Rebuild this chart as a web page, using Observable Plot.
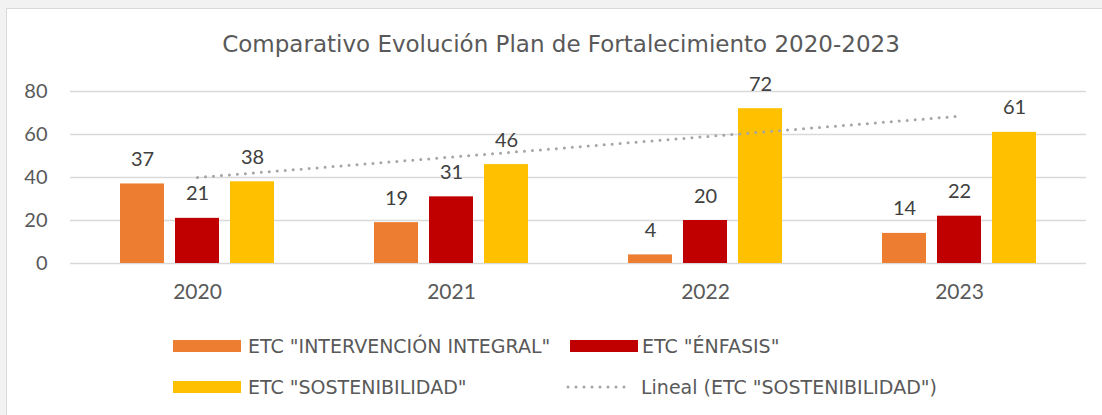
<!DOCTYPE html>
<html><head><meta charset="utf-8">
<script src="https://cdn.jsdelivr.net/npm/d3@7"></script>
<script src="https://cdn.jsdelivr.net/npm/@observablehq/plot@0.6"></script>
<style>
html,body{margin:0;padding:0;background:#f2f2f2;overflow:hidden;width:1102px;height:415px;position:relative;}
#frame{position:absolute;left:6px;top:8px;width:1200px;height:500px;background:#fff;border:1px solid #d9d9d9;}
#title{position:absolute;left:0;width:1122px;top:29px;text-align:center;font-family:"DejaVu Sans";font-size:23px;color:#595959;white-space:nowrap;line-height:30px;}
#chart,#trend{position:absolute;left:0;top:70px;}
.sw{position:absolute;height:12px;width:68px;}
.lt{position:absolute;font-family:"DejaVu Sans";font-size:19px;color:#595959;white-space:nowrap;line-height:24px;}
</style></head>
<body>
<div id="frame"></div>
<div id="title">Comparativo Evolución Plan de Fortalecimiento 2020-2023</div>
<div id="chart"></div>
<div id="trend"></div>
<div id="legend"></div>
<script>
const years = ["2020", "2021", "2022", "2023"];
const seriesNames = ['ETC "INTERVENCIÓN INTEGRAL"', 'ETC "ÉNFASIS"', 'ETC "SOSTENIBILIDAD"'];
const intervencion = [37, 19, 4, 14];
const enfasis = [21, 31, 20, 22];
const sostenibilidad = [38, 46, 72, 61];
const colors = ["#ED7D31", "#C00000", "#FFC000"];
const yTicks = [0, 20, 40, 60, 80];
const trendName = 'Lineal (ETC "SOSTENIBILIDAD")';

const seriesValues = [intervencion, enfasis, sostenibilidad];
const data = [];
years.forEach((yr, i) => seriesNames.forEach((s, j) => data.push({year: yr, series: s, value: seriesValues[j][i]})));

// linear trend (least squares) of SOSTENIBILIDAD
const xs = years.map((_, i) => i + 1);
const mx = d3.mean(xs), my = d3.mean(sostenibilidad);
const slope = d3.sum(xs, (x, i) => (x - mx) * (sostenibilidad[i] - my)) / d3.sum(xs, x => (x - mx) ** 2);
const intercept = my - slope * mx;
const trend = years.map((yr, i) => ({year: yr, value: intercept + slope * xs[i]}));

const W = 1102, H = 253, ML = 70, MR = 16, MT = 21, MB = 60;
const numFont = "Lato";

const chart = Plot.plot({
  width: W, height: H, marginLeft: ML, marginRight: MR, marginTop: MT, marginBottom: MB,
  style: {background: "transparent", fontFamily: numFont, overflow: "visible"},
  fx: {domain: years, padding: 0},
  x: {domain: seriesNames, paddingInner: 0.2, paddingOuter: 0.87, axis: null},
  y: {domain: [0, 80]},
  color: {domain: seriesNames, range: colors},
  marks: [
    Plot.gridY(yTicks, {stroke: "#d9d9d9", strokeOpacity: 1, strokeWidth: 1.6}),
    Plot.axisY({ticks: yTicks, tickSize: 0, tickPadding: 23, fontSize: 20, fill: "#595959", label: null, fontFamily: numFont}),
    Plot.axisFx({anchor: "bottom", tickSize: 0, tickPadding: 21, fontSize: 21, fill: "#595959", label: null, fontFamily: numFont}),
    Plot.barY(data, {fx: "year", x: "series", y: "value", fill: "series"}),
    Plot.text(data, {fx: "year", x: "series", y: "value", text: d => String(d.value), dy: -18, lineAnchor: "bottom", fill: "#404040", fontSize: 20, fontFamily: numFont})
  ]
});
document.getElementById("chart").append(chart);

const trendPlot = Plot.plot({
  width: W, height: H, marginLeft: ML, marginRight: MR, marginTop: MT, marginBottom: MB,
  style: {background: "transparent"},
  x: {type: "point", domain: years, padding: 0.5, axis: null},
  y: {domain: [0, 80], axis: null},
  marks: [
    Plot.line(trend, {x: "year", y: "value", stroke: "#A5A5A5", strokeWidth: 3, strokeDasharray: "0 8", strokeLinecap: "round"})
  ]
});
document.getElementById("trend").append(trendPlot);

// legend
const legend = document.getElementById("legend");
const items = [
  {type: "sw", color: colors[0], text: seriesNames[0], sx: 173, tx: 248, cy: 346},
  {type: "sw", color: colors[1], text: seriesNames[1], sx: 570, tx: 642, cy: 346},
  {type: "sw", color: colors[2], text: seriesNames[2], sx: 173, tx: 248, cy: 387},
  {type: "dot", color: "#A5A5A5", text: trendName, sx: 568, tx: 641, cy: 387}
];
items.forEach(it => {
  if (it.type === "sw") {
    const s = document.createElement("div");
    s.className = "sw";
    s.style.left = it.sx + "px"; s.style.top = (it.cy - 6) + "px"; s.style.background = it.color;
    legend.append(s);
  } else {
    const svg = d3.create("svg").attr("width", 70).attr("height", 10)
      .style("position", "absolute").style("left", (it.sx - 2) + "px").style("top", (it.cy - 5) + "px");
    svg.append("line").attr("x1", 2).attr("x2", 66).attr("y1", 5).attr("y2", 5)
      .attr("stroke", it.color).attr("stroke-width", 3).attr("stroke-dasharray", "0 8").attr("stroke-linecap", "round");
    legend.append(svg.node());
  }
  const t = document.createElement("div");
  t.className = "lt";
  t.textContent = it.text;
  t.style.left = it.tx + "px"; t.style.top = (it.cy - 12) + "px";
  legend.append(t);
});
</script>
</body></html>
